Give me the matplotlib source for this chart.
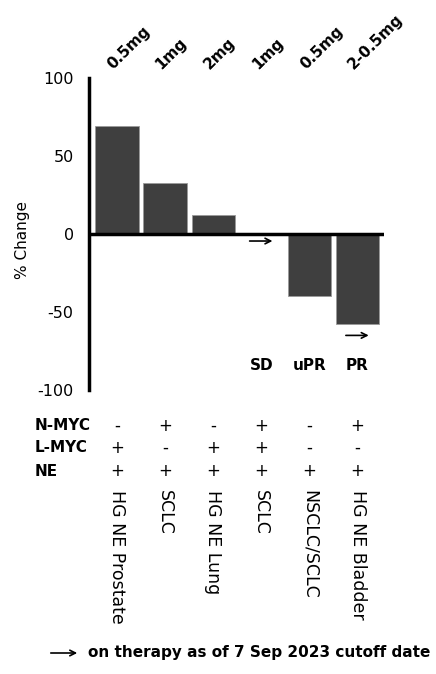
import matplotlib.pyplot as plt
import matplotlib.transforms as mtransforms
from matplotlib.patches import FancyArrowPatch
import numpy as np

plt.rcParams['axes.unicode_minus'] = False

# data
categories = ['HG NE Prostate', 'SCLC', 'HG NE Lung', 'SCLC', 'NSCLC/SCLC', 'HG NE Bladder']
doses = ['0.5mg', '1mg', '2mg', '1mg', '0.5mg', '2-0.5mg']
pct_change = [69, 33, 12, 0, -40, -58]
n_myc = ['-', '+', '-', '+', '-', '+']
l_myc = ['+', '-', '+', '+', '-', '-']
ne = ['+', '+', '+', '+', '+', '+']
response_idx = [3, 4, 5]
response = ['SD', 'uPR', 'PR']
on_therapy = [3, 5]

W, H = 436, 674
fig = plt.figure(figsize=(W / 100, H / 100), dpi=100)

def fy(py):
    return 1 - py / H

ax = fig.add_axes([89 / W, fy(390), 295 / W, (390 - 78) / H])
x = np.arange(len(categories))
ax.bar(x, pct_change, width=0.9, color='#3f3f3f', edgecolor='#9a9a9a', linewidth=0.6)
ax.set_xlim(-0.58, 5.55)
ax.set_ylim(-100, 100)
ax.set_yticks([-100, -50, 0, 50, 100])
ax.tick_params(axis='y', length=0, labelsize=11.5, pad=11)
ax.set_xticks([])
for s in ['top', 'right', 'bottom']:
    ax.spines[s].set_visible(False)
ax.spines['left'].set_linewidth(2.5)
ax.axhline(0, color='black', linewidth=2.5)
fig.text(23 / W, fy(240), '% Change', fontsize=11, rotation=90, ha='center', va='center')

# arrows for patients still on therapy
arrow_y = {3: -4.5, 5: -65}
for i in on_therapy:
    ax.annotate('', xy=(i + 0.29, arrow_y[i]), xytext=(i - 0.3, arrow_y[i]),
                arrowprops=dict(arrowstyle='->', color='black', lw=1.2))

tr = mtransforms.blended_transform_factory(ax.transData, fig.transFigure)

# dose labels on top
for i, d in enumerate(doses):
    ax.text(i - 0.03, fy(72), d, transform=tr, rotation=45, fontsize=11,
            fontweight='bold', ha='left', va='bottom', rotation_mode='anchor',
            clip_on=False)

# response labels
for i, r in zip(response_idx, response):
    ax.text(i, fy(365), r, transform=tr, fontsize=11, fontweight='bold',
            ha='center', va='center', clip_on=False)

# marker table
rows = [('N-MYC', n_myc, 426), ('L-MYC', l_myc, 448), ('NE', ne, 471)]
for name, vals, py in rows:
    fig.text(35 / W, fy(py), name, fontsize=11, fontweight='bold', ha='left', va='center')
    for i, v in enumerate(vals):
        ax.text(i, fy(py), v, transform=tr, fontsize=12, ha='center', va='center',
                clip_on=False)

# category labels
for i, c in enumerate(categories):
    ax.text(i, fy(490), c, transform=tr, rotation=270, fontsize=12.5,
            ha='center', va='top', clip_on=False)

# footer
fig.patches.append(FancyArrowPatch(
    (48 / W, fy(653)), (80 / W, fy(653)), transform=fig.transFigure,
    arrowstyle='->', mutation_scale=10, color='black', lw=1.2))
fig.text(88 / W, fy(653), 'on therapy as of 7 Sep 2023 cutoff date',
         fontsize=11, fontweight='bold', ha='left', va='center')

fig.savefig('out.png', dpi=100, facecolor='white')
